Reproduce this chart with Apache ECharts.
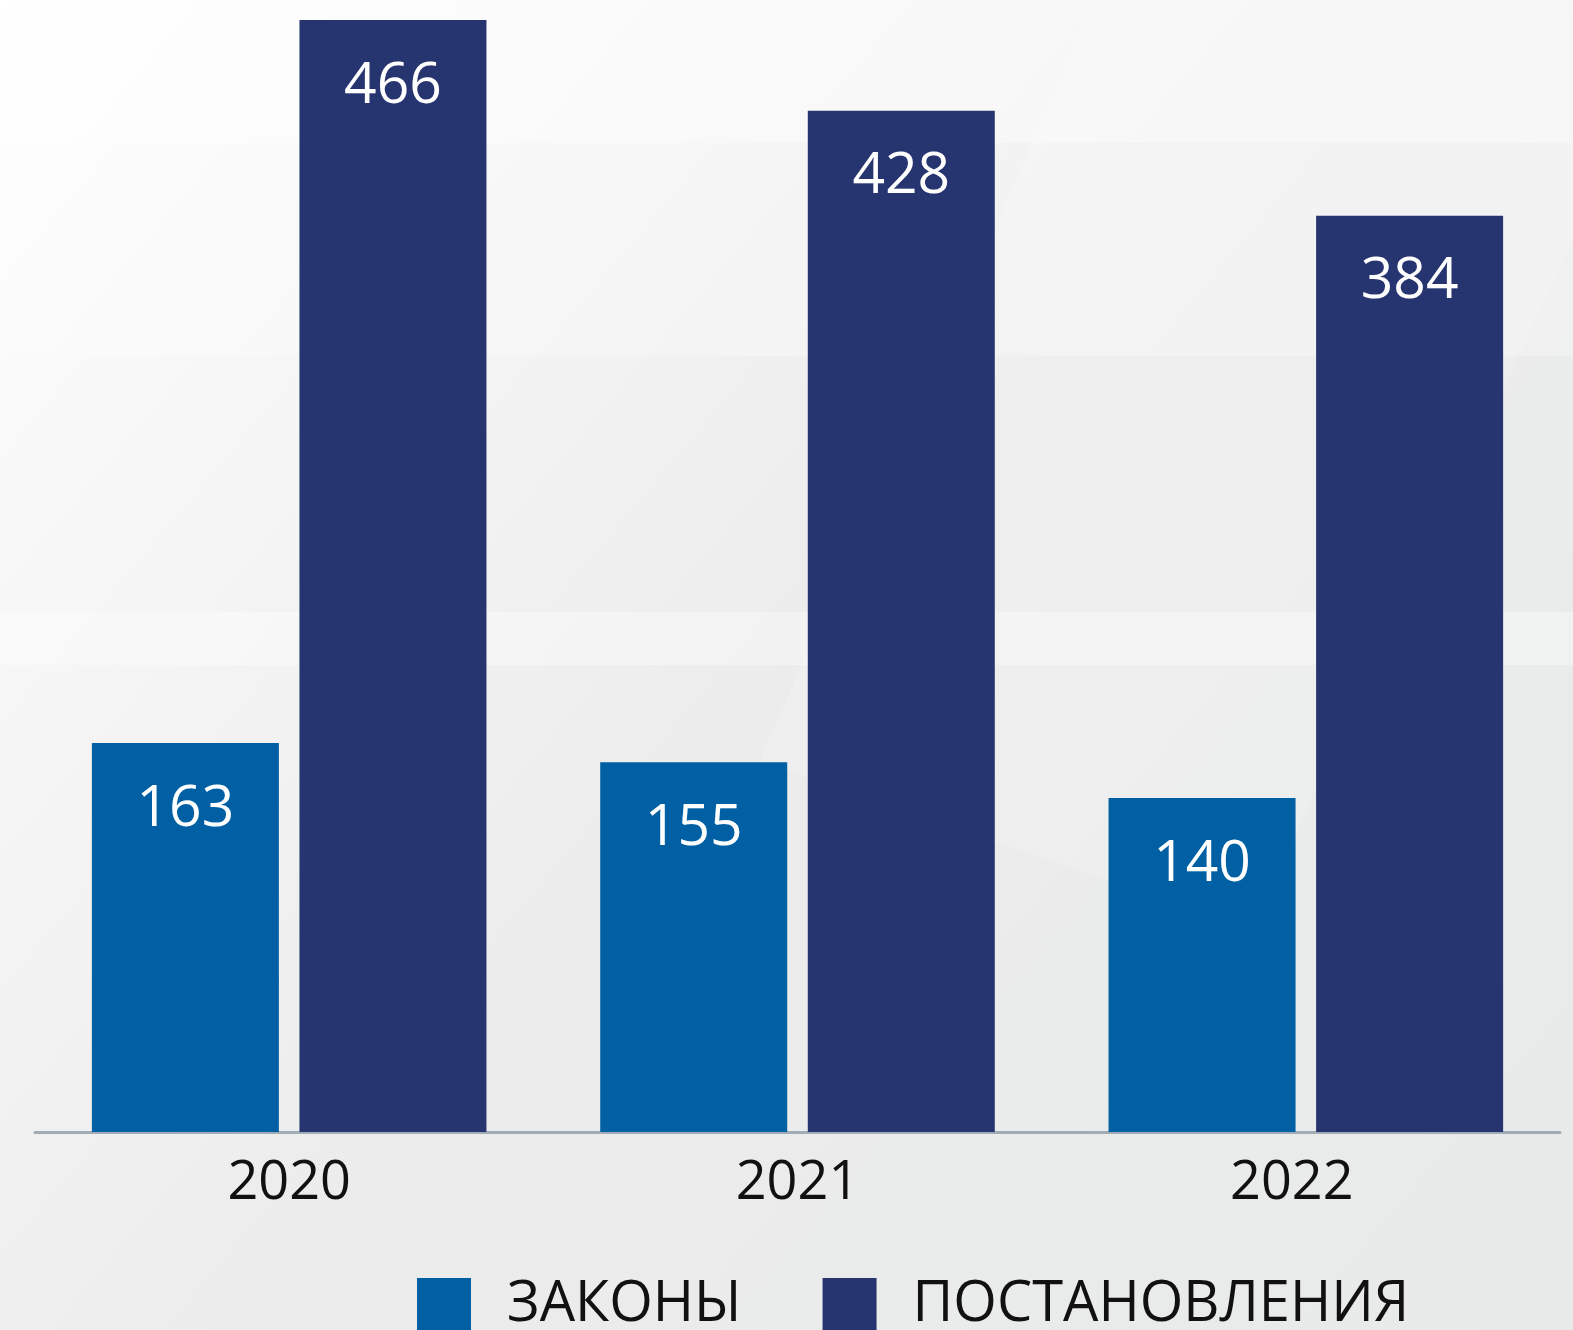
<!DOCTYPE html>
<html>
<head>
<meta charset="utf-8">
<script src="https://cdn.jsdelivr.net/npm/echarts@6/dist/echarts.min.js"></script>
<style>
  html, body { margin: 0; padding: 0; }
  #chart { width: 1573px; height: 1330px; }
</style>
</head>
<body>
<div id="chart"></div>
<script>
// данные
var years = ["2020", "2021", "2022"];
var zakony = [163, 155, 140];
var postanovleniya = [466, 428, 384];
var seriesNames = ["ЗАКОНЫ", "ПОСТАНОВЛЕНИЯ"];

var colors = ["#0160a4", "#263470"];
var font = "'Open Sans', 'Noto Sans', sans-serif";

var myChart = echarts.init(document.getElementById("chart"));

// подпись внутри столбца
var barLabel = {
  show: true,
  position: "insideTop",
  distance: 38,
  color: "#fff",
  fontSize: 57,
  fontFamily: font,
};

myChart.setOption({
  animation: false,
  backgroundColor: {
    type: "linear",
    x: 0, y: 0, x2: 1, y2: 1,
    colorStops: [
      { offset: 0, color: "#fefefe" },
      { offset: 0.5, color: "#ececec" },
      { offset: 1, color: "#e8eaea" },
    ],
  },
  graphic: [
    // светлые полосы фона
    { type: "rect", shape: { x: 0, y: 0, width: 1573, height: 143 }, style: { fill: "rgba(255,255,255,0.5)" }, silent: true, z: -10 },
    { type: "rect", shape: { x: 0, y: 143, width: 1573, height: 213 }, style: { fill: "rgba(255,255,255,0.25)" }, silent: true, z: -10 },
    { type: "rect", shape: { x: 0, y: 612, width: 1573, height: 53 }, style: { fill: "rgba(255,255,255,0.35)" }, silent: true, z: -10 },
    // диагональная плоскость справа
    { type: "polygon", shape: { points: [[1095, 0], [1573, 0], [1573, 240], [1250, 930], [760, 760]] }, style: { fill: "rgba(255,255,255,0.18)" }, silent: true, z: -10 },
  ],
  legend: {
    data: seriesNames,
    left: 412,
    top: 1272,
    itemWidth: 54,
    itemHeight: 54,
    itemGap: 81,
    icon: "rect",
    formatter: function (name) {
      return "{t|" + name + "}";
    },
    textStyle: {
      color: "#111",
      fontFamily: font,
      rich: {
        t: {
          color: "#111",
          fontSize: 56,
          fontFamily: font,
          padding: [0, 0, 0, 31],
        },
      },
    },
  },
  grid: {
    left: 35,
    right: 13,
    top: 20,
    bottom: 198,
  },
  xAxis: {
    type: "category",
    data: years,
    axisLine: {
      lineStyle: { color: "#a2acb5", width: 3 },
    },
    axisTick: { show: false },
    axisLabel: {
      color: "#111",
      fontSize: 54,
      fontFamily: font,
      margin: 25,
      formatter: function (v, i) {
        return i === 2 ? "{s|" + v + "}" : v;
      },
      rich: {
        s: {
          color: "#111",
          fontSize: 54,
          fontFamily: font,
          padding: [0, 28, 0, 0],
        },
      },
    },
  },
  yAxis: {
    type: "value",
    min: 0,
    max: 466,
    show: false,
    splitLine: { show: false },
  },
  series: [
    {
      name: seriesNames[0],
      type: "bar",
      data: zakony,
      barWidth: 187,
      barGap: "11%",
      itemStyle: { color: colors[0] },
      label: barLabel,
    },
    {
      name: seriesNames[1],
      type: "bar",
      data: postanovleniya,
      barWidth: 187,
      barGap: "11%",
      itemStyle: { color: colors[1] },
      label: barLabel,
    },
  ],
});
</script>
</body>
</html>
